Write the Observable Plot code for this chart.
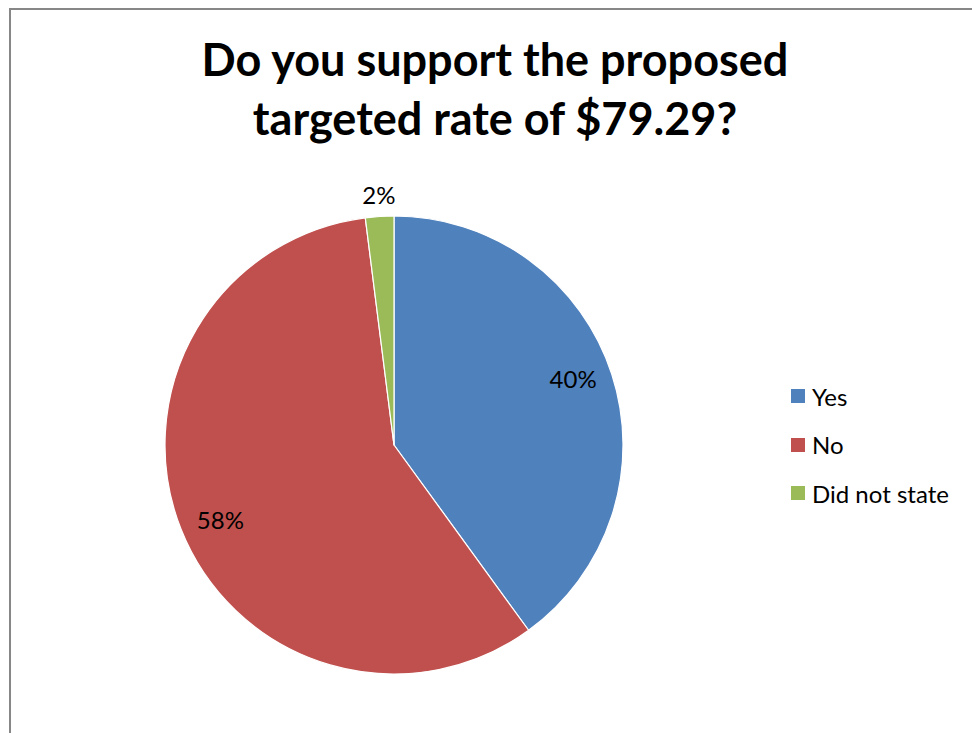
<!DOCTYPE html>
<html>
<head>
<meta charset="utf-8">
<script src="https://cdn.jsdelivr.net/npm/d3@7"></script>
<script src="https://cdn.jsdelivr.net/npm/@observablehq/plot@0.6"></script>
<style>
  html, body { margin: 0; padding: 0; background: #fff; width: 972px; height: 733px; overflow: hidden; }
  body { position: relative; font-family: Lato, "Open Sans", sans-serif; }
  #frame { position: absolute; left: 9px; top: 8px; width: 1000px; height: 800px; border: 2px solid #878787; box-sizing: border-box; }
  #title { position: absolute; left: 0; width: 990px; top: 30px; text-align: center; font-weight: 700; font-size: 45px; line-height: 59px; color: #000; }
  #chart { position: absolute; left: 0; top: 160px; }
  #legend { position: absolute; left: 791px; top: 381px; }
  .item { display: flex; align-items: center; height: 30px; margin-bottom: 18.5px; font-size: 24px; color: #000; }
  .sw { width: 14px; height: 14px; margin-right: 7px; }
</style>
</head>
<body>
<div id="frame"></div>
<div id="title">Do you support the proposed<br>targeted rate of $79.29?</div>
<div id="chart"></div>
<div id="legend"></div>
<script>
const categories = ["Yes", "No", "Did not state"];
const shares = [0.40, 0.58, 0.02];
const labels = ["40%", "58%", "2%"];
const colors = ["#4F81BD", "#C0504D", "#9BBB59"];

const data = categories.map((c, i) => ({category: c, share: shares[i], label: labels[i]}));
const pie = d3.pie().value(d => d.share).sort(null)(data);
const slices = pie.map(p => ({...p.data, startAngle: p.startAngle, endAngle: p.endAngle, mid: (p.startAngle + p.endAngle) / 2}));
slices.forEach(s => {
  const inside = s.share > 0.05;
  const r = inside ? 0.83 : 1.09;
  const a = inside ? s.mid - 0.035 : s.mid;
  s.lx = r * Math.sin(a);
  s.ly = r * Math.cos(a);
});

const W = 972, H = 560;
const cx = 394, cy = 285, R = 229;

const sliceMark = Plot.dot(slices, {
  x: () => 0, y: () => 0, fill: "category",
  render: (index, scales, values, dims) => {
    const x0 = scales.x(0), y0 = scales.y(0);
    const r = scales.x(1) - scales.x(0);
    const arc = d3.arc().innerRadius(0).outerRadius(r);
    const g = d3.create("svg:g").attr("transform", `translate(${x0},${y0})`);
    for (const i of index) {
      const s = slices[i];
      g.append("path")
        .attr("d", arc({startAngle: s.startAngle, endAngle: s.endAngle}))
        .attr("fill", scales.color(s.category))
        .attr("stroke", "#fff")
        .attr("stroke-width", 1.2)
        .attr("stroke-linejoin", "round");
    }
    return g.node();
  }
});

const plot = Plot.plot({
  width: W, height: H,
  margin: 0,
  x: {domain: [-1, 1], range: [cx - R, cx + R], axis: null},
  y: {domain: [-1, 1], range: [cy + R, cy - R], axis: null},
  color: {domain: categories, range: colors},
  style: {background: "transparent", fontFamily: "Lato, 'Open Sans', sans-serif"},
  marks: [
    sliceMark,
    Plot.text(slices, {x: "lx", y: "ly", text: "label", fontSize: 24, fill: "#000", textAnchor: "middle", lineAnchor: "middle"})
  ]
});
document.getElementById("chart").appendChild(plot);

const legend = document.getElementById("legend");
categories.forEach((c, i) => {
  const item = document.createElement("div");
  item.className = "item";
  const sw = document.createElement("div");
  sw.className = "sw";
  sw.style.background = colors[i];
  const t = document.createElement("span");
  t.textContent = c;
  item.appendChild(sw); item.appendChild(t);
  legend.appendChild(item);
});
</script>
</body>
</html>
